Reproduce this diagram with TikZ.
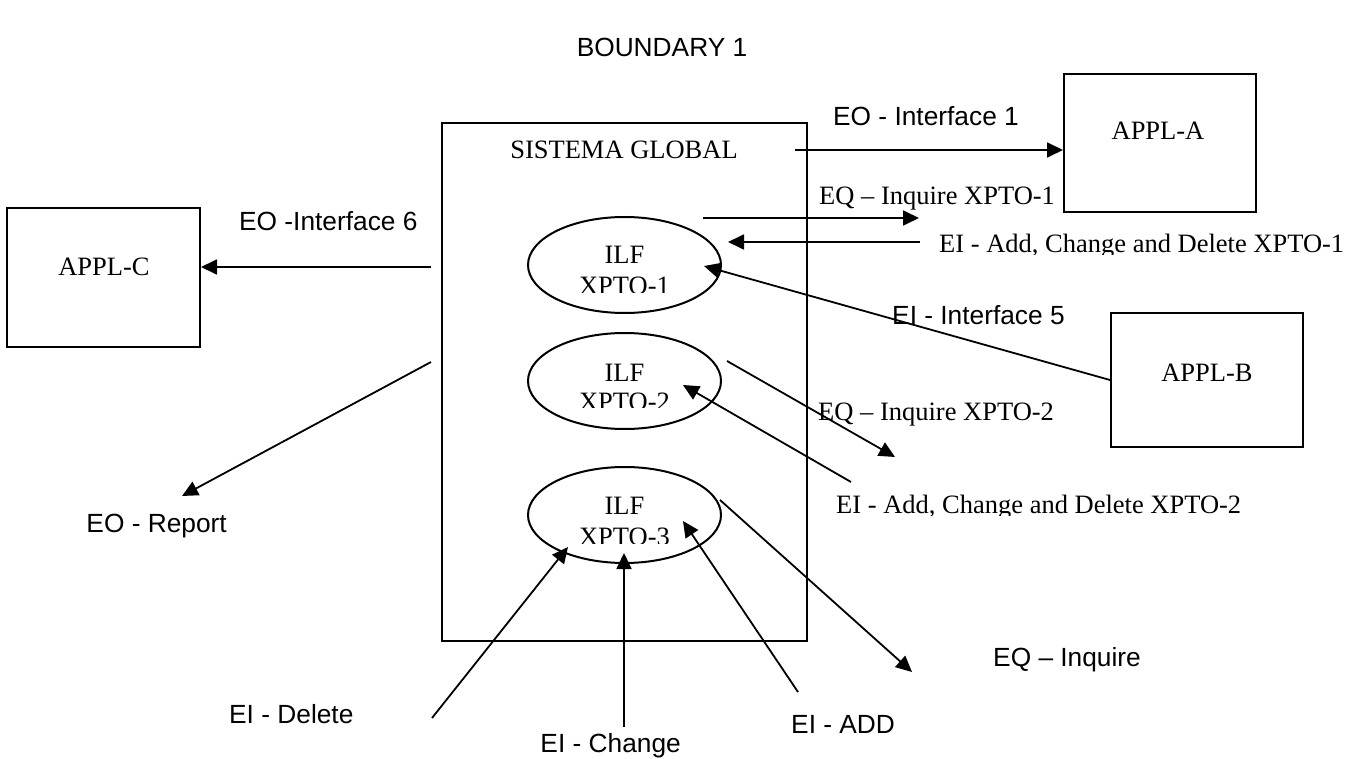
\documentclass[tikz,border=0pt]{standalone}
\usepackage{fontspec}
\setmainfont{Liberation Serif}
\newfontfamily\arialfont{Liberation Sans}
\usetikzlibrary{arrows.meta,shapes.geometric}

\begin{document}
\begin{tikzpicture}[x=1pt,y=-1pt,
  serif/.style={font=\fontsize{26.5}{31}\selectfont, inner sep=0pt},
  sans/.style={font=\arialfont\fontsize{26.3}{31}\selectfont, inner sep=0pt},
  frame/.style={draw, line width=2pt, inner sep=0pt},
  store/.style={ellipse, draw, line width=2pt, minimum width=193pt,
                minimum height=96pt, inner sep=0pt},
  flow/.style={line width=1.8pt, -{Triangle[length=16pt,width=15pt]}},
]
\useasboundingbox (0,0) rectangle (1352,759);

% title
\node[sans, anchor=base] (title) at (662,57) {BOUNDARY 1};

% system boundary and external applications
\node[frame, minimum width=365pt, minimum height=518pt] (sys) at (624.5,382) {};
\node[serif, anchor=base] (systxt) at (624,159) {SISTEMA GLOBAL};

\node[frame, minimum width=192pt, minimum height=138pt] (appla) at (1160,143) {};
\node[serif, anchor=base] (applatxt) at (1158,140) {APPL-A};
\node[frame, minimum width=192pt, minimum height=134pt] (applb) at (1207,380) {};
\node[serif, anchor=base] (applbtxt) at (1207,381) {APPL-B};
\node[frame, minimum width=193pt, minimum height=139pt] (applc) at (103.5,277.5) {};
\node[serif, anchor=base] (applctxt) at (104,276) {APPL-C};

% internal logical files
\node[store] (ilf1) at (624.5,265) {};
\node[store] (ilf2) at (624.5,381) {};
\node[store] (ilf3) at (624.5,515) {};
\node[serif, anchor=base] (ilf1a) at (624.5,264) {ILF};
\node[serif, anchor=base] (ilf2a) at (624.5,381) {ILF};
\node[serif, anchor=base] (ilf3a) at (624.5,514) {ILF};
\begin{scope}
  \clip (520,270) rectangle (730,293);
  \node[serif, anchor=base] (ilf1b) at (624.5,295) {XPTO-1};
\end{scope}
\begin{scope}
  \clip (520,385) rectangle (730,407);
  \node[serif, anchor=base] (ilf2b) at (624.5,410) {XPTO-2};
\end{scope}
\begin{scope}
  \clip (520,520) rectangle (730,543);
  \node[serif, anchor=base] (ilf3b) at (624.5,545) {XPTO-3};
\end{scope}

% connector end points
\coordinate (o1) at (795,150);
\coordinate (q1s) at (703,218);
\coordinate (q1e) at (919,218);
\coordinate (a1s) at (920,242);
\coordinate (a1e) at (728,242);
\coordinate (i5e) at (704,266);
\coordinate (o6) at (431,267);
\coordinate (rps) at (431,362);
\coordinate (rpe) at (182,496);
\coordinate (q2s) at (727,361);
\coordinate (q2e) at (895,457);
\coordinate (a2s) at (851,482);
\coordinate (a2e) at (683,385);
\coordinate (q3s) at (720,500);
\coordinate (q3e) at (912,672);
\coordinate (ads) at (798,692);
\coordinate (ade) at (683,521);
\coordinate (chs) at (624,727);
\coordinate (che) at (624,553);
\coordinate (dls) at (432,718);
\coordinate (dle) at (568,547);

% transactions
\draw[flow] (o1) -- (o1 -| appla.west);
\draw[flow] (q1s) -- (q1e);
\draw[flow] (a1s) -- (a1e);
\draw[flow] (applb.west) -- (i5e);
\draw[flow] (o6) -- (o6 -| applc.east);
\draw[flow] (rps) -- (rpe);
\draw[flow] (q2s) -- (q2e);
\draw[flow] (a2s) -- (a2e);
\draw[flow] (q3s) -- (q3e);
\draw[flow] (ads) -- (ade);
\draw[flow] (chs) -- (che);
\draw[flow] (dls) -- (dle);

% transaction labels
\node[sans, anchor=base] (l1) at (926,126) {EO - Interface 1};
\node[serif, anchor=base west] (l2) at (819,205) {EQ – Inquire XPTO-1};
\begin{scope}
  \clip (930,220) rectangle (1352,255);
  \node[serif, anchor=base west] (l3) at (939,253) {EI - Add, Change and Delete XPTO-1};
\end{scope}
\node[sans, anchor=base west] (l4) at (892,324) {EI - Interface 5};
\node[sans, anchor=base west] (l5) at (239,231) {EO -Interface 6};
\node[sans, anchor=base east] (l6) at (227,532) {EO - Report};
\node[serif, anchor=base west] (l7) at (818,420) {EQ – Inquire XPTO-2};
\begin{scope}
  \clip (825,480) rectangle (1352,515);
  \node[serif, anchor=base west] (l8) at (836,513) {EI - Add, Change and Delete XPTO-2};
\end{scope}
\node[sans, anchor=base west] (l9) at (993,666) {EQ – Inquire};
\node[sans, anchor=base west] (l10) at (229,723) {EI - Delete};
\node[sans, anchor=base east] (l11) at (681,752) {EI - Change};
\node[sans, anchor=base west] (l12) at (791,733) {EI - ADD};
\end{tikzpicture}
\end{document}
